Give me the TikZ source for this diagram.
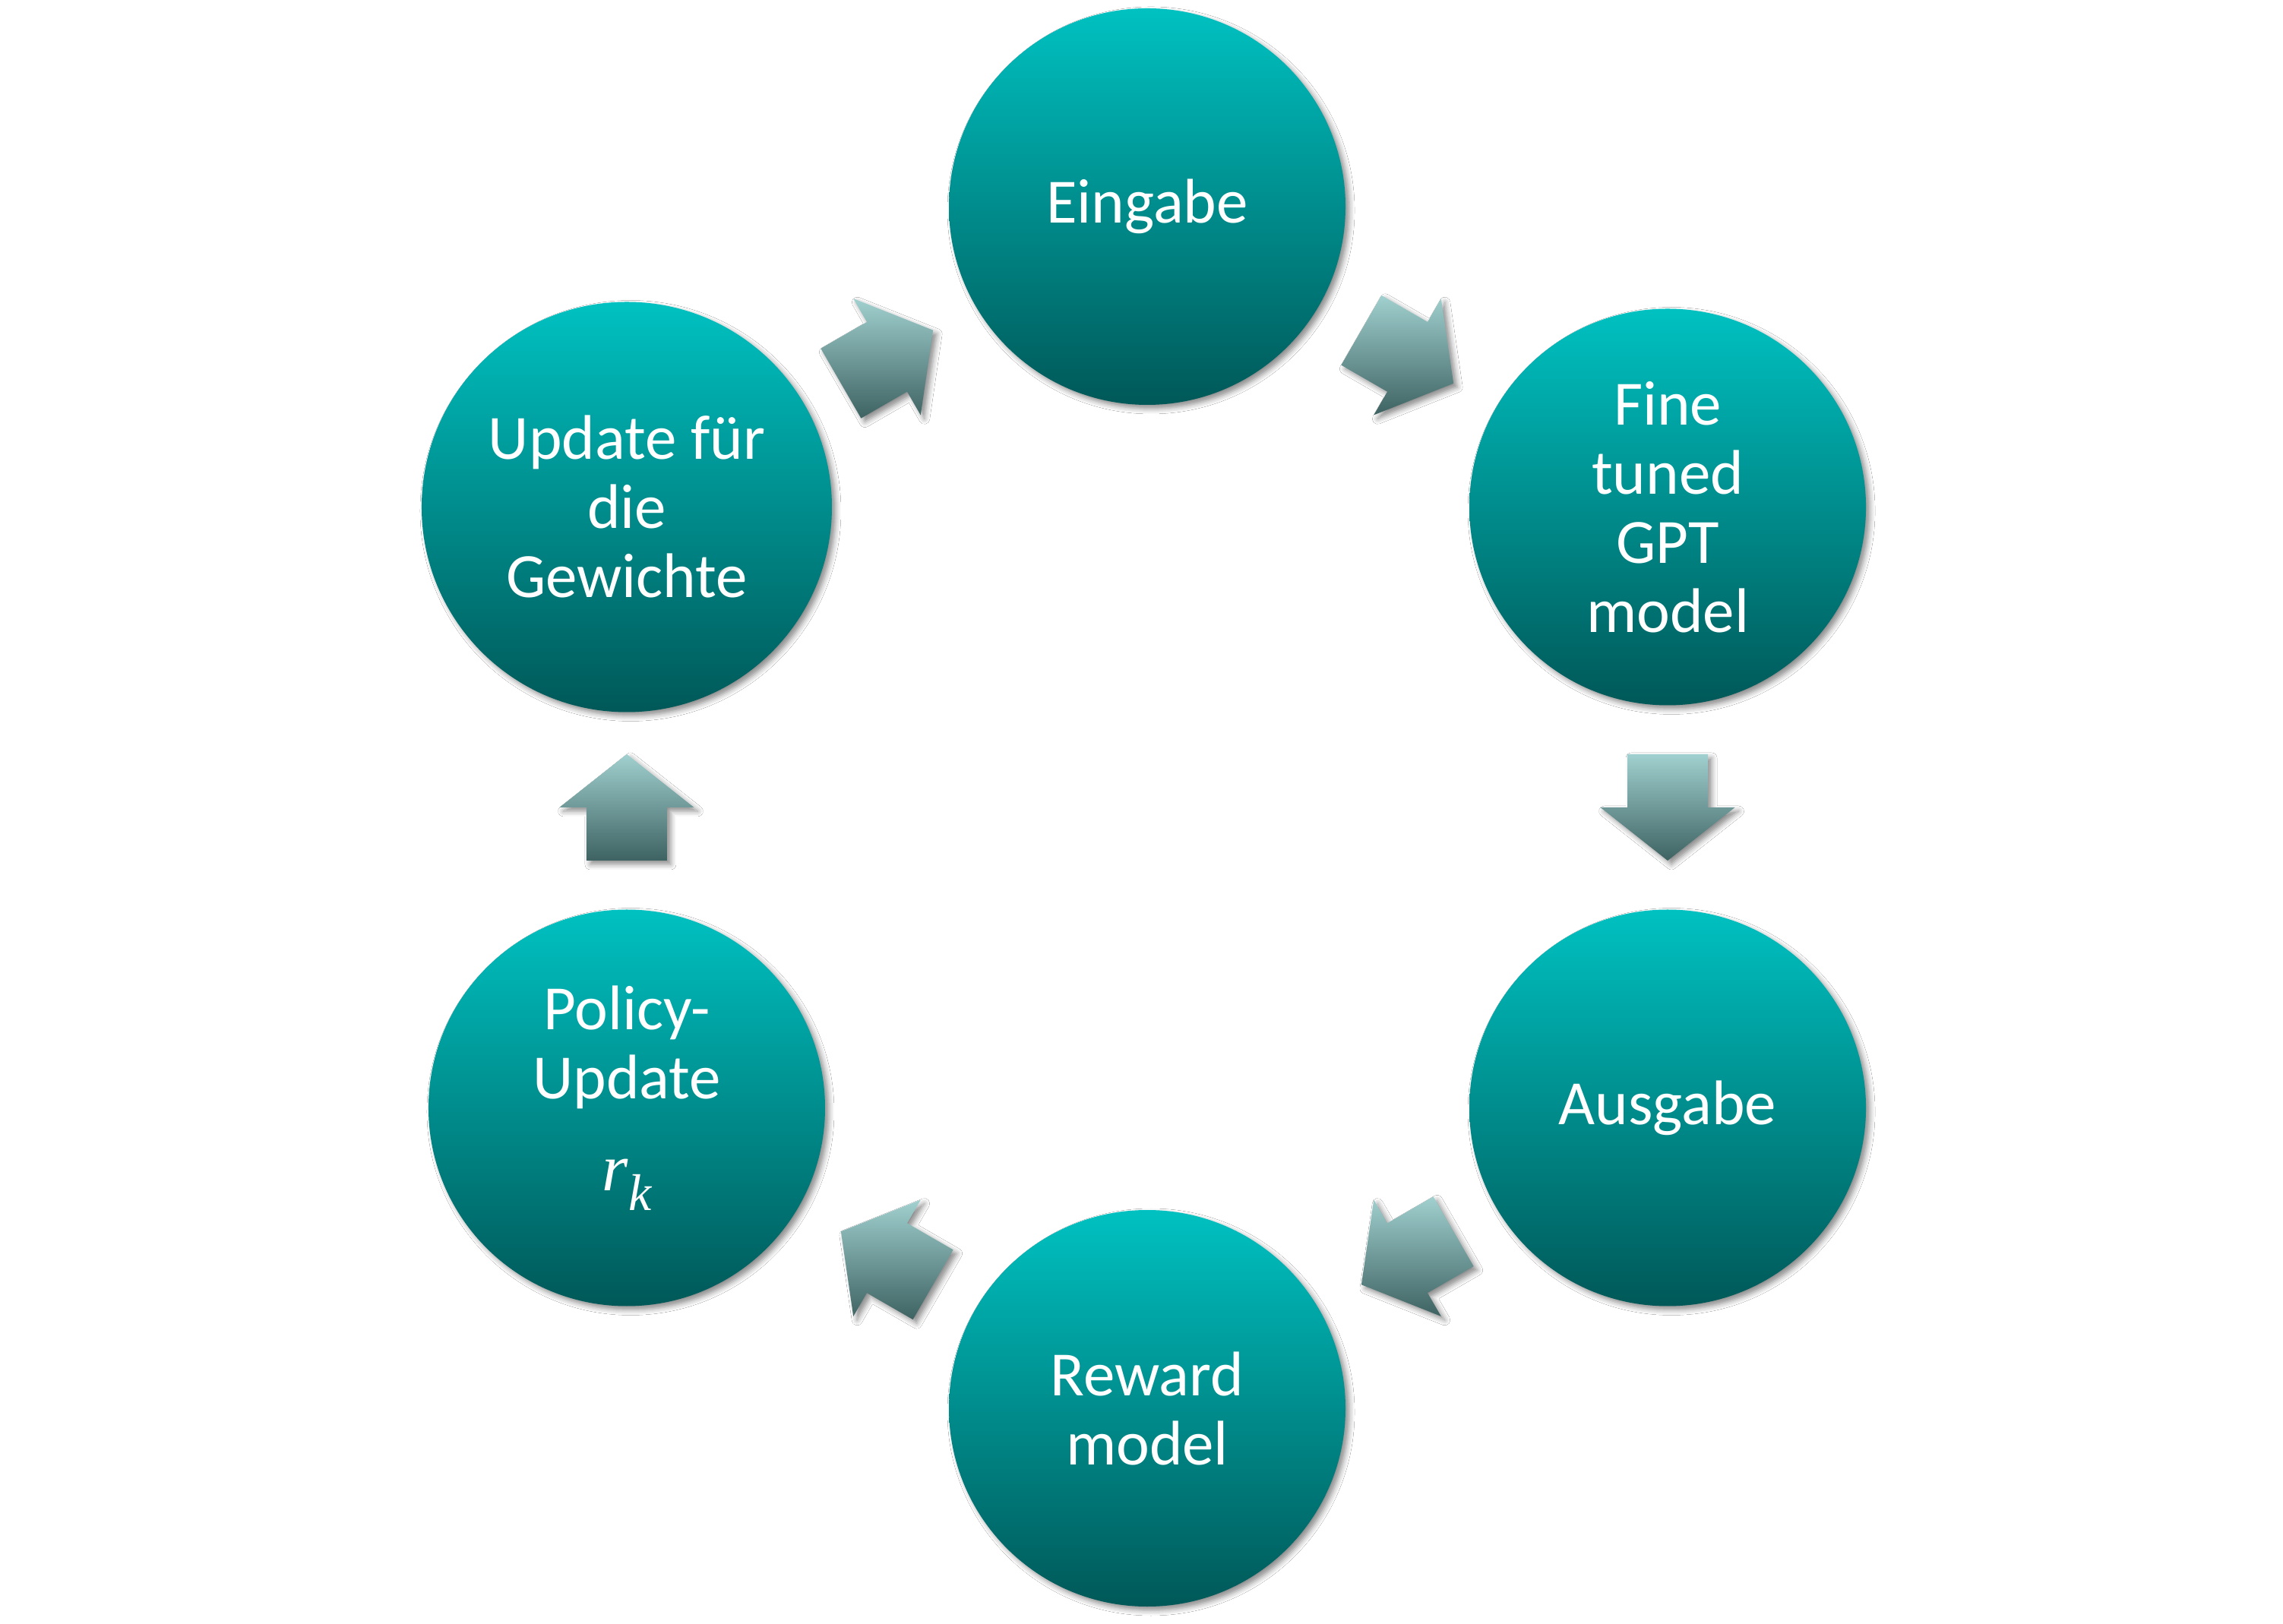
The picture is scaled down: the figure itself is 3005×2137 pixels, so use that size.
\RequirePackage{fix-cm}
\documentclass[tikz,border=0pt]{standalone}
\usepackage{fontspec}
\setmainfont{Carlito}
\newfontfamily\rkfont{Liberation Serif}
\usetikzlibrary{calc,shadows.blur}
\definecolor{ctop}{RGB}{0,193,193}
\definecolor{cbot}{RGB}{0,88,88}
\definecolor{atop}{RGB}{160,208,207}
\definecolor{abot}{RGB}{62,98,98}
\tikzset{
  softshadow/.style={blur shadow={shadow xshift=5pt, shadow yshift=-5pt, shadow blur radius=7pt, shadow opacity=45}},
  stage/.style={circle, inner sep=0pt, minimum size=522pt, top color=ctop, bottom color=cbot,
    text=white, align=center, font=\fontsize{83}{91}\selectfont, softshadow},
  blockarrow/.style={top color=atop, bottom color=abot, softshadow}
}
\newcommand\cyclearrow[2]{%
  \path[blockarrow] let \p1=(#1.center), \p2=(#2.center),
      \n1={atan2(\y2-\y1,\x2-\x1)}, \p3=($(\p1)!0.5!(\p2)$) in
    ($(\p3)+(\n1+180:70)+(\n1-90:53)$) --
    ($(\p3)+(\n1-90:53)$) --
    ($(\p3)+(\n1-90:88.5)$) --
    ($(\p3)+(\n1:70)$) --
    ($(\p3)+(\n1+90:88.5)$) --
    ($(\p3)+(\n1+90:53)$) --
    ($(\p3)+(\n1+180:70)+(\n1+90:53)$) -- cycle;}
\newcommand\rk{\raisebox{0pt}[\height][52pt]{{\rkfont\itshape\fontsize{88}{88}\selectfont r\raisebox{-0.3em}{\fontsize{68}{68}\selectfont k}}}}
\begin{document}
\begin{tikzpicture}[x=1pt,y=1pt]
\fill[white] (0,0) rectangle (3005,2137);
\useasboundingbox (0,0) rectangle (3005,2137);
\coordinate (cen) at (1510,1074);
\node[stage] (eing) at ($(cen)+(90:791)$) {Eingabe};
\node[stage] (gpt) at ($(cen)+(30:791)$) {Fine\\tuned\\GPT\\model};
\node[stage] (ausg) at ($(cen)+(-30:791)$) {Ausgabe};
\node[stage] (rew) at ($(cen)+(-90:791)$) {Reward\\model};
\node[stage] (pol) at ($(cen)+(-150:791)$) {Policy-\\Update\\[30pt]\rk};
\node[stage, minimum size=540pt] (upd) at ($(cen)+(150:791)$) {Update für\\die\\Gewichte};
\cyclearrow{upd}{eing}
\cyclearrow{eing}{gpt}
\cyclearrow{gpt}{ausg}
\cyclearrow{ausg}{rew}
\cyclearrow{rew}{pol}
\cyclearrow{pol}{upd}
\end{tikzpicture}
\end{document}
